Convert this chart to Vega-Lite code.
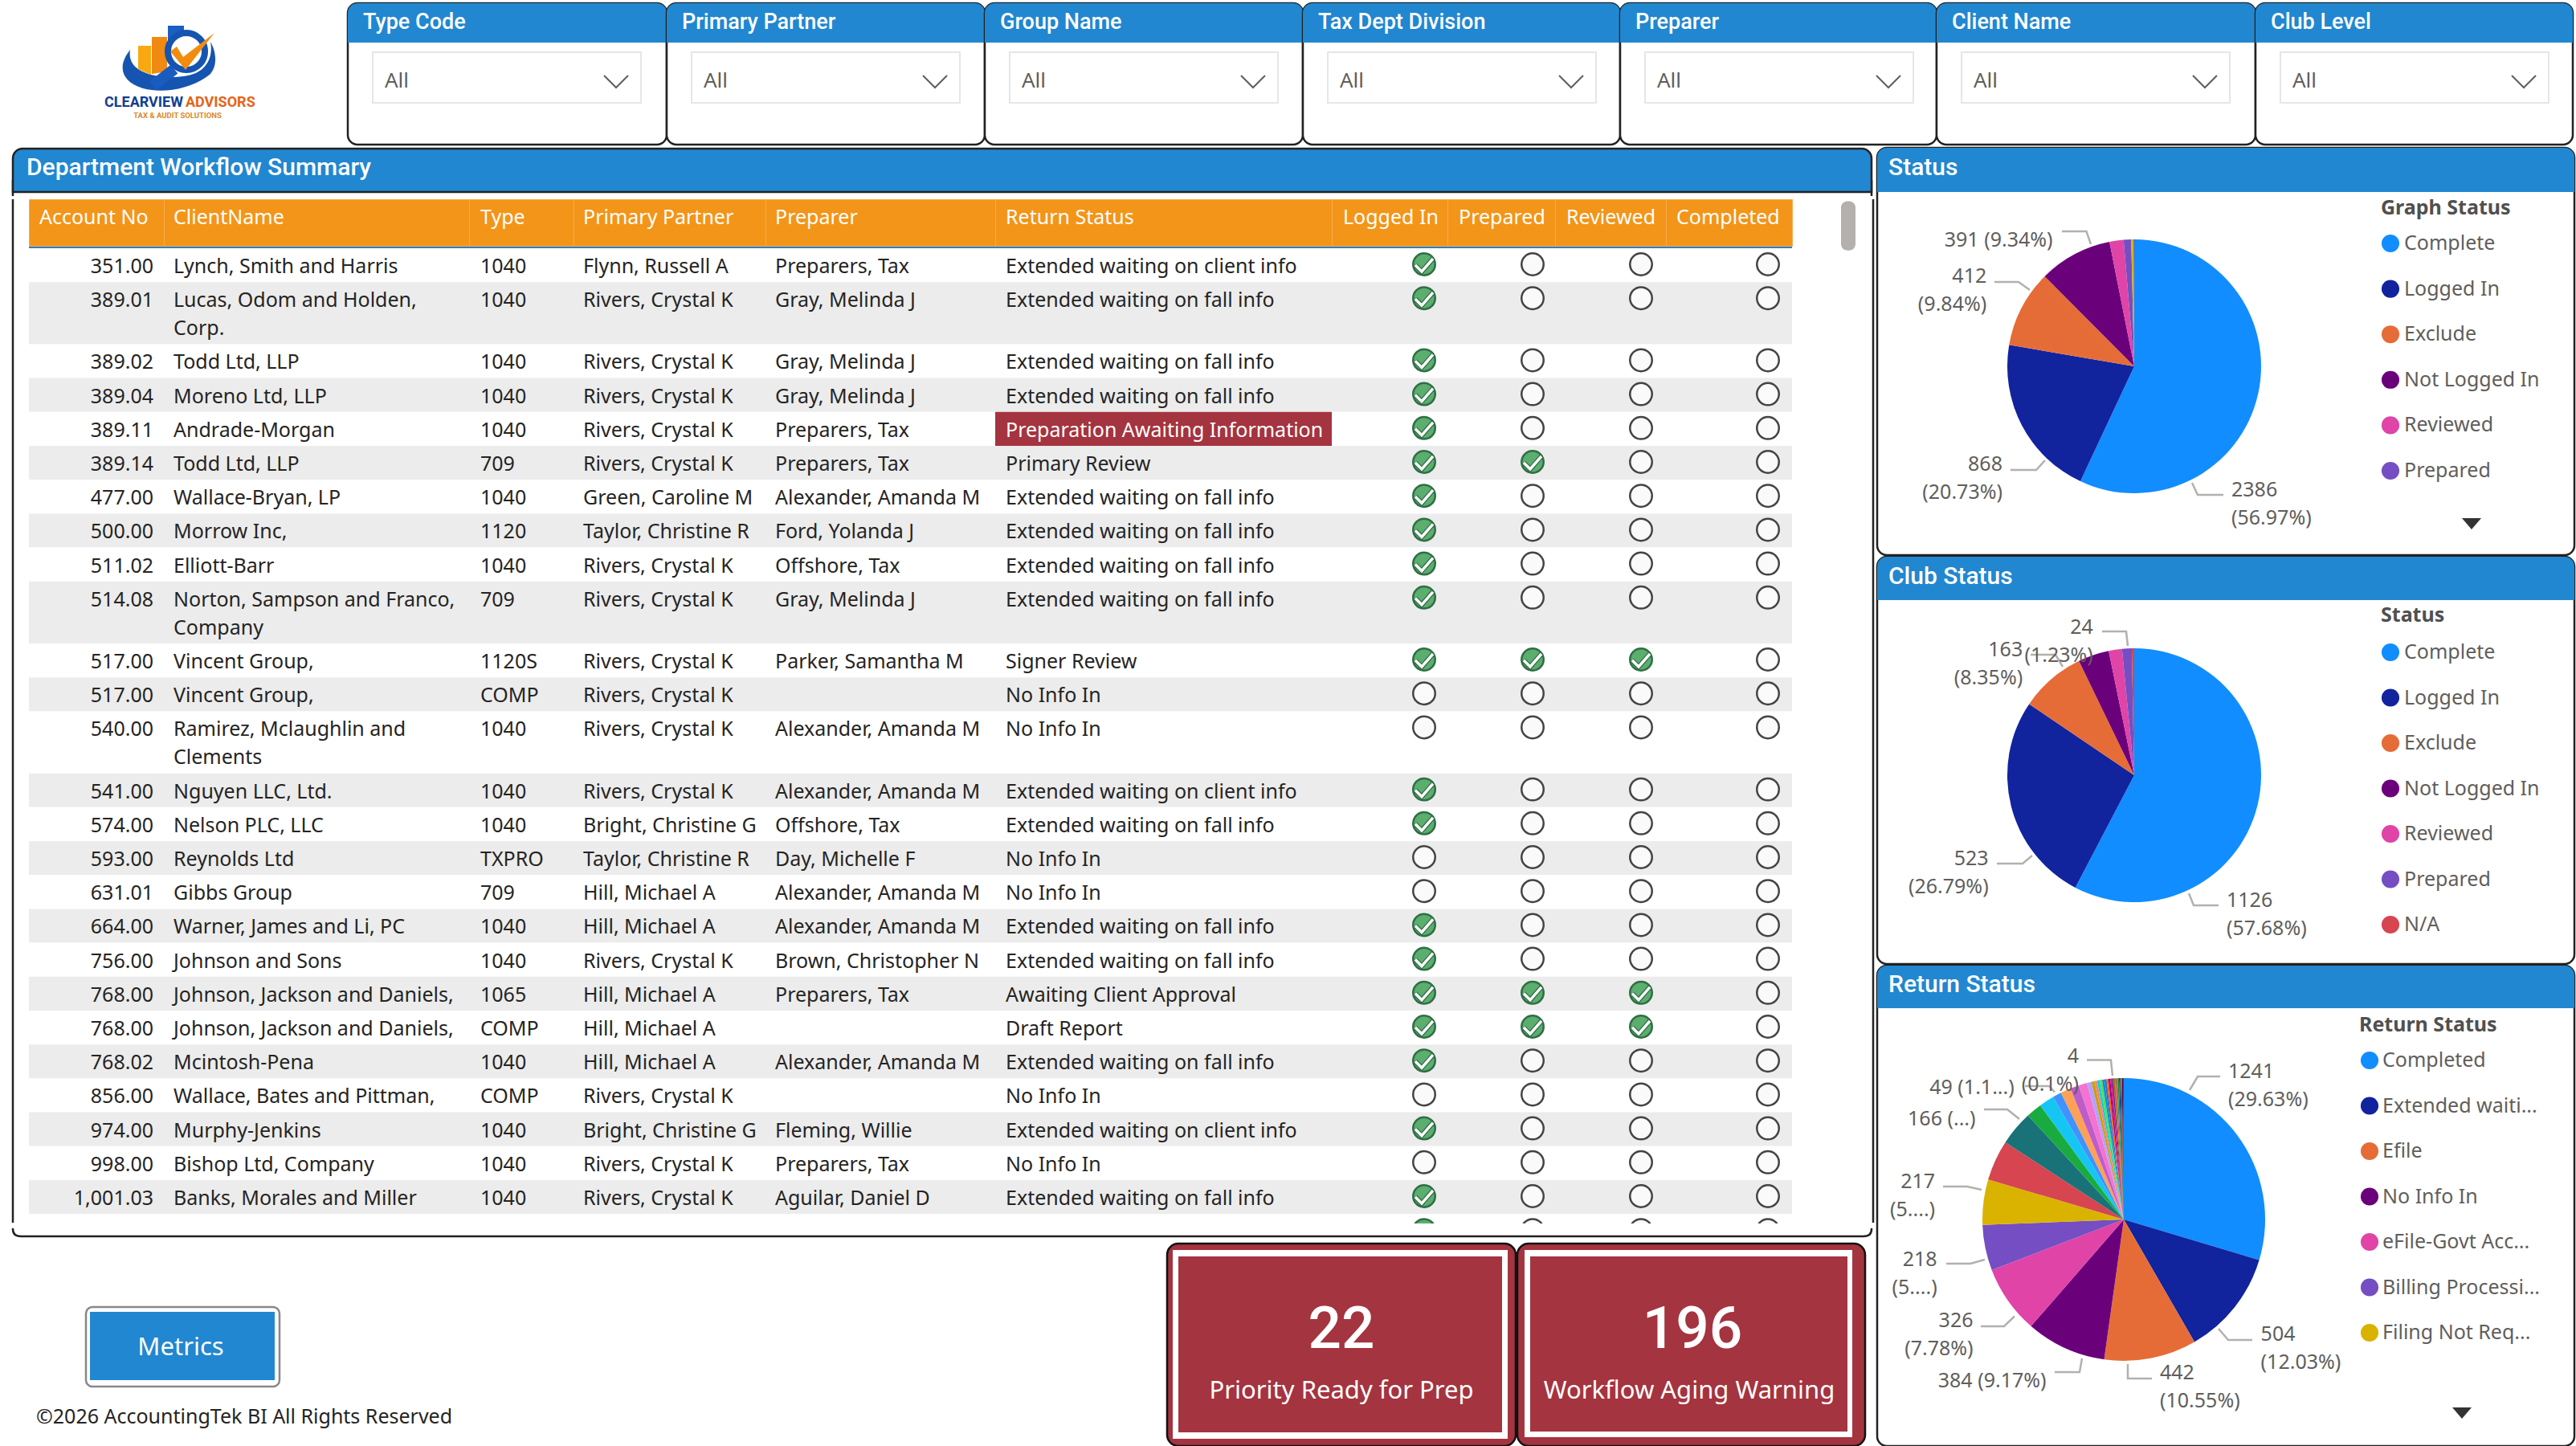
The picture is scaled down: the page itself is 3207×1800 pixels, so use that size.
{
"$schema":"https://vega.github.io/schema/vega-lite/v6.json",
"description":"Department workflow dashboard",
"padding":0,"background":"white","spacing":0,
"config":{"view":{"stroke":null},"axis":{"disable":true},"legend":{"disable":true},"point":{"opacity":1},"text":{"font":"Noto Sans","fontSize":25,"color":"#605e5c"},"arc":{"opacity":1}},
"datasets":{"rows":[
{"account":351.00,"client":"Lynch, Smith and Harris","type":"1040","partner":"Flynn, Russell A","preparer":"Preparers, Tax","status":"Extended waiting on client info","loggedIn":true,"prepared":false,"reviewed":false,"completed":false,"line":0,"lineEnd":1,"shade":"odd"},
{"account":389.01,"client":"Lucas, Odom and Holden,\nCorp.","type":"1040","partner":"Rivers, Crystal K","preparer":"Gray, Melinda J","status":"Extended waiting on fall info","loggedIn":true,"prepared":false,"reviewed":false,"completed":false,"line":1,"lineEnd":2.83,"shade":"even"},
{"account":389.02,"client":"Todd Ltd, LLP","type":"1040","partner":"Rivers, Crystal K","preparer":"Gray, Melinda J","status":"Extended waiting on fall info","loggedIn":true,"prepared":false,"reviewed":false,"completed":false,"line":2.83,"lineEnd":3.83,"shade":"odd"},
{"account":389.04,"client":"Moreno Ltd, LLP","type":"1040","partner":"Rivers, Crystal K","preparer":"Gray, Melinda J","status":"Extended waiting on fall info","loggedIn":true,"prepared":false,"reviewed":false,"completed":false,"line":3.83,"lineEnd":4.83,"shade":"even"},
{"account":389.11,"client":"Andrade-Morgan","type":"1040","partner":"Rivers, Crystal K","preparer":"Preparers, Tax","status":"Preparation Awaiting Information","alert":true,"loggedIn":true,"prepared":false,"reviewed":false,"completed":false,"line":4.83,"lineEnd":5.83,"shade":"odd"},
{"account":389.14,"client":"Todd Ltd, LLP","type":"709","partner":"Rivers, Crystal K","preparer":"Preparers, Tax","status":"Primary Review","loggedIn":true,"prepared":true,"reviewed":false,"completed":false,"line":5.83,"lineEnd":6.83,"shade":"even"},
{"account":477.00,"client":"Wallace-Bryan, LP","type":"1040","partner":"Green, Caroline M","preparer":"Alexander, Amanda M","status":"Extended waiting on fall info","loggedIn":true,"prepared":false,"reviewed":false,"completed":false,"line":6.83,"lineEnd":7.83,"shade":"odd"},
{"account":500.00,"client":"Morrow Inc,","type":"1120","partner":"Taylor, Christine R","preparer":"Ford, Yolanda J","status":"Extended waiting on fall info","loggedIn":true,"prepared":false,"reviewed":false,"completed":false,"line":7.83,"lineEnd":8.83,"shade":"even"},
{"account":511.02,"client":"Elliott-Barr","type":"1040","partner":"Rivers, Crystal K","preparer":"Offshore, Tax","status":"Extended waiting on fall info","loggedIn":true,"prepared":false,"reviewed":false,"completed":false,"line":8.83,"lineEnd":9.83,"shade":"odd"},
{"account":514.08,"client":"Norton, Sampson and Franco,\nCompany","type":"709","partner":"Rivers, Crystal K","preparer":"Gray, Melinda J","status":"Extended waiting on fall info","loggedIn":true,"prepared":false,"reviewed":false,"completed":false,"line":9.83,"lineEnd":11.66,"shade":"even"},
{"account":517.00,"client":"Vincent Group,","type":"1120S","partner":"Rivers, Crystal K","preparer":"Parker, Samantha M","status":"Signer Review","loggedIn":true,"prepared":true,"reviewed":true,"completed":false,"line":11.66,"lineEnd":12.66,"shade":"odd"},
{"account":517.00,"client":"Vincent Group,","type":"COMP","partner":"Rivers, Crystal K","preparer":"","status":"No Info In","loggedIn":false,"prepared":false,"reviewed":false,"completed":false,"line":12.66,"lineEnd":13.66,"shade":"even"},
{"account":540.00,"client":"Ramirez, Mclaughlin and\nClements","type":"1040","partner":"Rivers, Crystal K","preparer":"Alexander, Amanda M","status":"No Info In","loggedIn":false,"prepared":false,"reviewed":false,"completed":false,"line":13.66,"lineEnd":15.49,"shade":"odd"},
{"account":541.00,"client":"Nguyen LLC, Ltd.","type":"1040","partner":"Rivers, Crystal K","preparer":"Alexander, Amanda M","status":"Extended waiting on client info","loggedIn":true,"prepared":false,"reviewed":false,"completed":false,"line":15.49,"lineEnd":16.49,"shade":"even"},
{"account":574.00,"client":"Nelson PLC, LLC","type":"1040","partner":"Bright, Christine G","preparer":"Offshore, Tax","status":"Extended waiting on fall info","loggedIn":true,"prepared":false,"reviewed":false,"completed":false,"line":16.49,"lineEnd":17.49,"shade":"odd"},
{"account":593.00,"client":"Reynolds Ltd","type":"TXPRO","partner":"Taylor, Christine R","preparer":"Day, Michelle F","status":"No Info In","loggedIn":false,"prepared":false,"reviewed":false,"completed":false,"line":17.49,"lineEnd":18.49,"shade":"even"},
{"account":631.01,"client":"Gibbs Group","type":"709","partner":"Hill, Michael A","preparer":"Alexander, Amanda M","status":"No Info In","loggedIn":false,"prepared":false,"reviewed":false,"completed":false,"line":18.49,"lineEnd":19.49,"shade":"odd"},
{"account":664.00,"client":"Warner, James and Li, PC","type":"1040","partner":"Hill, Michael A","preparer":"Alexander, Amanda M","status":"Extended waiting on fall info","loggedIn":true,"prepared":false,"reviewed":false,"completed":false,"line":19.49,"lineEnd":20.49,"shade":"even"},
{"account":756.00,"client":"Johnson and Sons","type":"1040","partner":"Rivers, Crystal K","preparer":"Brown, Christopher N","status":"Extended waiting on fall info","loggedIn":true,"prepared":false,"reviewed":false,"completed":false,"line":20.49,"lineEnd":21.49,"shade":"odd"},
{"account":768.00,"client":"Johnson, Jackson and Daniels,","type":"1065","partner":"Hill, Michael A","preparer":"Preparers, Tax","status":"Awaiting Client Approval","loggedIn":true,"prepared":true,"reviewed":true,"completed":false,"line":21.49,"lineEnd":22.49,"shade":"even"},
{"account":768.00,"client":"Johnson, Jackson and Daniels,","type":"COMP","partner":"Hill, Michael A","preparer":"","status":"Draft Report","loggedIn":true,"prepared":true,"reviewed":true,"completed":false,"line":22.49,"lineEnd":23.49,"shade":"odd"},
{"account":768.02,"client":"Mcintosh-Pena","type":"1040","partner":"Hill, Michael A","preparer":"Alexander, Amanda M","status":"Extended waiting on fall info","loggedIn":true,"prepared":false,"reviewed":false,"completed":false,"line":23.49,"lineEnd":24.49,"shade":"even"},
{"account":856.00,"client":"Wallace, Bates and Pittman,","type":"COMP","partner":"Rivers, Crystal K","preparer":"","status":"No Info In","loggedIn":false,"prepared":false,"reviewed":false,"completed":false,"line":24.49,"lineEnd":25.49,"shade":"odd"},
{"account":974.00,"client":"Murphy-Jenkins","type":"1040","partner":"Bright, Christine G","preparer":"Fleming, Willie","status":"Extended waiting on client info","loggedIn":true,"prepared":false,"reviewed":false,"completed":false,"line":25.49,"lineEnd":26.49,"shade":"even"},
{"account":998.00,"client":"Bishop Ltd, Company","type":"1040","partner":"Rivers, Crystal K","preparer":"Preparers, Tax","status":"No Info In","loggedIn":false,"prepared":false,"reviewed":false,"completed":false,"line":26.49,"lineEnd":27.49,"shade":"odd"},
{"account":1001.03,"client":"Banks, Morales and Miller","type":"1040","partner":"Rivers, Crystal K","preparer":"Aguilar, Daniel D","status":"Extended waiting on fall info","loggedIn":true,"prepared":false,"reviewed":false,"completed":false,"line":27.49,"lineEnd":28.49,"shade":"even"},
{"loggedIn":true,"prepared":false,"reviewed":false,"completed":false,"line":28.49,"lineEnd":29.49,"shade":"odd"}
]},
"vconcat":[
{"width":3207,"height":2,"data":{"values":[{}]},"mark":{"type":"rect","opacity":0}},
{"hconcat":[
{"width":433,"height":176,"data":{"values":[{"brand":"Clearview Advisors"}]},"layer":[
{"mark":{"type":"point","filled":true,"fill":"#1554b0","shape":"M162 58C146 78 150 97 178 106C205 113 240 106 262 88C272 76 268 58 262 48C266 70 255 88 228 91C205 94 175 90 165 75C162 70 161 65 162 58Z"},"encoding":{"x":{"value":0},"y":{"value":0},"size":{"value":4}}},
{"mark":{"type":"point","filled":true,"fill":"#f9a90f","shape":"M172 53H188V89L172 82Z"},"encoding":{"x":{"value":0},"y":{"value":0},"size":{"value":4}}},
{"mark":{"type":"point","filled":true,"fill":"#f08a12","shape":"M189 42H208V85L189 88Z"},"encoding":{"x":{"value":0},"y":{"value":0},"size":{"value":4}}},
{"mark":{"type":"point","filled":true,"fill":"#1a5fc4","shape":"M209 28H229V47H209Z"},"encoding":{"x":{"value":0},"y":{"value":0},"size":{"value":4}}},
{"mark":{"type":"point","shape":"circle","filled":true,"fill":"white","stroke":"#1554b0","strokeWidth":8},"encoding":{"x":{"value":232},"y":{"value":60},"size":{"value":2124}}},
{"mark":{"type":"point","filled":false,"stroke":"#1a5bc0","strokeWidth":14,"shape":"M217 82L190 103"},"encoding":{"x":{"value":0},"y":{"value":0},"size":{"value":4}}},
{"mark":{"type":"point","filled":true,"fill":"#f28c0f","shape":"M212 60L220 54L228 67L267 37L231 83Z"},"encoding":{"x":{"value":0},"y":{"value":0},"size":{"value":4}}},
{"mark":{"type":"text","font":"Roboto","fontWeight":"bold","fontSize":18,"color":"#12408f","align":"right","baseline":"middle"},"encoding":{"x":{"value":228},"y":{"value":124},"text":{"value":"CLEARVIEW"}}},
{"mark":{"type":"text","font":"Roboto","fontWeight":"bold","fontSize":18,"color":"#e5631a","align":"left","baseline":"middle"},"encoding":{"x":{"value":231},"y":{"value":124},"text":{"value":"ADVISORS"}}},
{"mark":{"type":"text","font":"Roboto","fontWeight":"bold","fontSize":9.5,"color":"#d98a2b","align":"center","baseline":"middle"},"encoding":{"x":{"value":221},"y":{"value":140},"text":{"value":"TAX & AUDIT SOLUTIONS"}}}
]},
{"width":397,"height":176,"view":{"fill":"white","stroke":"#222","strokeWidth":2.5,"cornerRadius":12},"data":{"values":[{"title":"Type Code","selected":"All"}]},"layer":[
{"mark":{"type":"rect","color":"#2187d0","cornerRadiusTopLeft":12,"cornerRadiusTopRight":12},"encoding":{"y":{"value":0},"y2":{"value":49}}},
{"mark":{"type":"text","font":"Roboto","fontWeight":500,"fontSize":27,"color":"white","align":"left","baseline":"middle"},"encoding":{"x":{"value":19},"y":{"value":24},"text":{"field":"title"}}},
{"mark":{"type":"rect","fill":"white","stroke":"#e6e6e6","strokeWidth":2},"encoding":{"x":{"value":31},"x2":{"value":365},"y":{"value":61},"y2":{"value":124}}},
{"mark":{"type":"text","align":"left","baseline":"middle","fontSize":26},"encoding":{"x":{"value":46},"y":{"value":97},"text":{"field":"selected"}}},
{"mark":{"type":"point","filled":false,"stroke":"#605e5c","strokeWidth":2,"shape":"M-15 -7L0 8L15 -7"},"encoding":{"x":{"value":334},"y":{"value":97},"size":{"value":4}}}
]},
{"width":396,"height":176,"view":{"fill":"white","stroke":"#222","strokeWidth":2.5,"cornerRadius":12},"data":{"values":[{"title":"Primary Partner","selected":"All"}]},"layer":[
{"mark":{"type":"rect","color":"#2187d0","cornerRadiusTopLeft":12,"cornerRadiusTopRight":12},"encoding":{"y":{"value":0},"y2":{"value":49}}},
{"mark":{"type":"text","font":"Roboto","fontWeight":500,"fontSize":27,"color":"white","align":"left","baseline":"middle"},"encoding":{"x":{"value":19},"y":{"value":24},"text":{"field":"title"}}},
{"mark":{"type":"rect","fill":"white","stroke":"#e6e6e6","strokeWidth":2},"encoding":{"x":{"value":31},"x2":{"value":365},"y":{"value":61},"y2":{"value":124}}},
{"mark":{"type":"text","align":"left","baseline":"middle","fontSize":26},"encoding":{"x":{"value":46},"y":{"value":97},"text":{"field":"selected"}}},
{"mark":{"type":"point","filled":false,"stroke":"#605e5c","strokeWidth":2,"shape":"M-15 -7L0 8L15 -7"},"encoding":{"x":{"value":334},"y":{"value":97},"size":{"value":4}}}
]},
{"width":396,"height":176,"view":{"fill":"white","stroke":"#222","strokeWidth":2.5,"cornerRadius":12},"data":{"values":[{"title":"Group Name","selected":"All"}]},"layer":[
{"mark":{"type":"rect","color":"#2187d0","cornerRadiusTopLeft":12,"cornerRadiusTopRight":12},"encoding":{"y":{"value":0},"y2":{"value":49}}},
{"mark":{"type":"text","font":"Roboto","fontWeight":500,"fontSize":27,"color":"white","align":"left","baseline":"middle"},"encoding":{"x":{"value":19},"y":{"value":24},"text":{"field":"title"}}},
{"mark":{"type":"rect","fill":"white","stroke":"#e6e6e6","strokeWidth":2},"encoding":{"x":{"value":31},"x2":{"value":365},"y":{"value":61},"y2":{"value":124}}},
{"mark":{"type":"text","align":"left","baseline":"middle","fontSize":26},"encoding":{"x":{"value":46},"y":{"value":97},"text":{"field":"selected"}}},
{"mark":{"type":"point","filled":false,"stroke":"#605e5c","strokeWidth":2,"shape":"M-15 -7L0 8L15 -7"},"encoding":{"x":{"value":334},"y":{"value":97},"size":{"value":4}}}
]},
{"width":395,"height":176,"view":{"fill":"white","stroke":"#222","strokeWidth":2.5,"cornerRadius":12},"data":{"values":[{"title":"Tax Dept Division","selected":"All"}]},"layer":[
{"mark":{"type":"rect","color":"#2187d0","cornerRadiusTopLeft":12,"cornerRadiusTopRight":12},"encoding":{"y":{"value":0},"y2":{"value":49}}},
{"mark":{"type":"text","font":"Roboto","fontWeight":500,"fontSize":27,"color":"white","align":"left","baseline":"middle"},"encoding":{"x":{"value":19},"y":{"value":24},"text":{"field":"title"}}},
{"mark":{"type":"rect","fill":"white","stroke":"#e6e6e6","strokeWidth":2},"encoding":{"x":{"value":31},"x2":{"value":365},"y":{"value":61},"y2":{"value":124}}},
{"mark":{"type":"text","align":"left","baseline":"middle","fontSize":26},"encoding":{"x":{"value":46},"y":{"value":97},"text":{"field":"selected"}}},
{"mark":{"type":"point","filled":false,"stroke":"#605e5c","strokeWidth":2,"shape":"M-15 -7L0 8L15 -7"},"encoding":{"x":{"value":334},"y":{"value":97},"size":{"value":4}}}
]},
{"width":394,"height":176,"view":{"fill":"white","stroke":"#222","strokeWidth":2.5,"cornerRadius":12},"data":{"values":[{"title":"Preparer","selected":"All"}]},"layer":[
{"mark":{"type":"rect","color":"#2187d0","cornerRadiusTopLeft":12,"cornerRadiusTopRight":12},"encoding":{"y":{"value":0},"y2":{"value":49}}},
{"mark":{"type":"text","font":"Roboto","fontWeight":500,"fontSize":27,"color":"white","align":"left","baseline":"middle"},"encoding":{"x":{"value":19},"y":{"value":24},"text":{"field":"title"}}},
{"mark":{"type":"rect","fill":"white","stroke":"#e6e6e6","strokeWidth":2},"encoding":{"x":{"value":31},"x2":{"value":365},"y":{"value":61},"y2":{"value":124}}},
{"mark":{"type":"text","align":"left","baseline":"middle","fontSize":26},"encoding":{"x":{"value":46},"y":{"value":97},"text":{"field":"selected"}}},
{"mark":{"type":"point","filled":false,"stroke":"#605e5c","strokeWidth":2,"shape":"M-15 -7L0 8L15 -7"},"encoding":{"x":{"value":334},"y":{"value":97},"size":{"value":4}}}
]},
{"width":397,"height":176,"view":{"fill":"white","stroke":"#222","strokeWidth":2.5,"cornerRadius":12},"data":{"values":[{"title":"Client Name","selected":"All"}]},"layer":[
{"mark":{"type":"rect","color":"#2187d0","cornerRadiusTopLeft":12,"cornerRadiusTopRight":12},"encoding":{"y":{"value":0},"y2":{"value":49}}},
{"mark":{"type":"text","font":"Roboto","fontWeight":500,"fontSize":27,"color":"white","align":"left","baseline":"middle"},"encoding":{"x":{"value":19},"y":{"value":24},"text":{"field":"title"}}},
{"mark":{"type":"rect","fill":"white","stroke":"#e6e6e6","strokeWidth":2},"encoding":{"x":{"value":31},"x2":{"value":365},"y":{"value":61},"y2":{"value":124}}},
{"mark":{"type":"text","align":"left","baseline":"middle","fontSize":26},"encoding":{"x":{"value":46},"y":{"value":97},"text":{"field":"selected"}}},
{"mark":{"type":"point","filled":false,"stroke":"#605e5c","strokeWidth":2,"shape":"M-15 -7L0 8L15 -7"},"encoding":{"x":{"value":334},"y":{"value":97},"size":{"value":4}}}
]},
{"width":395,"height":176,"view":{"fill":"white","stroke":"#222","strokeWidth":2.5,"cornerRadius":12},"data":{"values":[{"title":"Club Level","selected":"All"}]},"layer":[
{"mark":{"type":"rect","color":"#2187d0","cornerRadiusTopLeft":12,"cornerRadiusTopRight":12},"encoding":{"y":{"value":0},"y2":{"value":49}}},
{"mark":{"type":"text","font":"Roboto","fontWeight":500,"fontSize":27,"color":"white","align":"left","baseline":"middle"},"encoding":{"x":{"value":19},"y":{"value":24},"text":{"field":"title"}}},
{"mark":{"type":"rect","fill":"white","stroke":"#e6e6e6","strokeWidth":2},"encoding":{"x":{"value":31},"x2":{"value":365},"y":{"value":61},"y2":{"value":124}}},
{"mark":{"type":"text","align":"left","baseline":"middle","fontSize":26},"encoding":{"x":{"value":46},"y":{"value":97},"text":{"field":"selected"}}},
{"mark":{"type":"point","filled":false,"stroke":"#605e5c","strokeWidth":2,"shape":"M-15 -7L0 8L15 -7"},"encoding":{"x":{"value":334},"y":{"value":97},"size":{"value":4}}}
]}
],"spacing":0,"bounds":"flush"},
{"hconcat":[
{"width":11,"height":1,"data":{"values":[{}]},"mark":{"type":"rect","opacity":0}},
{"vconcat":[
{"vconcat":[
{"width":2316,"height":60,"data":{"values":[{"title":"Department Workflow Summary"}]},"layer":[
{"mark":{"type":"rule","color":"#222","strokeWidth":2.5},"encoding":{"x":{"value":1},"y":{"value":40},"y2":{"value":60}}},
{"mark":{"type":"rule","color":"#222","strokeWidth":2.5},"encoding":{"x":{"value":2315},"y":{"value":40},"y2":{"value":60}}},
{"mark":{"type":"rect","color":"#2187d0","stroke":"#222","strokeWidth":2.5,"cornerRadiusTopLeft":12,"cornerRadiusTopRight":12},"encoding":{"x":{"value":1},"x2":{"value":2315},"y":{"value":1},"y2":{"value":55}}},
{"mark":{"type":"text","font":"Roboto","fontWeight":500,"fontSize":30,"color":"white","align":"left","baseline":"middle"},"encoding":{"x":{"value":18},"y":{"value":25},"text":{"field":"title"}}}
]},
{"hconcat":[
{"width":20,"height":1274,"data":{"values":[{}]},"mark":{"type":"rule","color":"#222","strokeWidth":2.5},"encoding":{"x":{"value":1},"y":{"value":0},"y2":{"value":1274}}},
{"vconcat":[
{"hconcat":[
{"width":168,"height":58,"view":{"fill":"#f39519","stroke":"#f6ab4d"},"data":{"values":[{"h":"Account No"}]},"mark":{"type":"text","align":"left","baseline":"middle","color":"white"},"encoding":{"x":{"value":13},"y":{"value":23},"text":{"field":"h"}}},
{"width":380,"height":58,"view":{"fill":"#f39519","stroke":"#f6ab4d"},"data":{"values":[{"h":"ClientName"}]},"mark":{"type":"text","align":"left","baseline":"middle","color":"white"},"encoding":{"x":{"value":12},"y":{"value":23},"text":{"field":"h"}}},
{"width":130,"height":58,"view":{"fill":"#f39519","stroke":"#f6ab4d"},"data":{"values":[{"h":"Type"}]},"mark":{"type":"text","align":"left","baseline":"middle","color":"white"},"encoding":{"x":{"value":14},"y":{"value":23},"text":{"field":"h"}}},
{"width":239,"height":58,"view":{"fill":"#f39519","stroke":"#f6ab4d"},"data":{"values":[{"h":"Primary Partner"}]},"mark":{"type":"text","align":"left","baseline":"middle","color":"white"},"encoding":{"x":{"value":12},"y":{"value":23},"text":{"field":"h"}}},
{"width":286,"height":58,"view":{"fill":"#f39519","stroke":"#f6ab4d"},"data":{"values":[{"h":"Preparer"}]},"mark":{"type":"text","align":"left","baseline":"middle","color":"white"},"encoding":{"x":{"value":12},"y":{"value":23},"text":{"field":"h"}}},
{"width":419,"height":58,"view":{"fill":"#f39519","stroke":"#f6ab4d"},"data":{"values":[{"h":"Return Status"}]},"mark":{"type":"text","align":"left","baseline":"middle","color":"white"},"encoding":{"x":{"value":13},"y":{"value":23},"text":{"field":"h"}}},
{"width":144,"height":58,"view":{"fill":"#f39519","stroke":"#f6ab4d"},"data":{"values":[{"h":"Logged In"}]},"mark":{"type":"text","align":"left","baseline":"middle","color":"white"},"encoding":{"x":{"value":14},"y":{"value":23},"text":{"field":"h"}}},
{"width":134,"height":58,"view":{"fill":"#f39519","stroke":"#f6ab4d"},"data":{"values":[{"h":"Prepared"}]},"mark":{"type":"text","align":"left","baseline":"middle","color":"white"},"encoding":{"x":{"value":14},"y":{"value":23},"text":{"field":"h"}}},
{"width":138,"height":58,"view":{"fill":"#f39519","stroke":"#f6ab4d"},"data":{"values":[{"h":"Reviewed"}]},"mark":{"type":"text","align":"left","baseline":"middle","color":"white"},"encoding":{"x":{"value":14},"y":{"value":23},"text":{"field":"h"}}},
{"width":157,"height":58,"view":{"fill":"#f39519","stroke":"#f6ab4d"},"data":{"values":[{"h":"Completed"}]},"mark":{"type":"text","align":"left","baseline":"middle","color":"white"},"encoding":{"x":{"value":13},"y":{"value":23},"text":{"field":"h"}}}
],"spacing":0,"bounds":"flush"},
{"width":2195,"height":2,"data":{"values":[{}]},"mark":{"type":"rect","color":"#2d7fc0"}},
{"hconcat":[
{"width":168,"height":1214,"data":{"name":"rows"},"encoding":{"y":{"field":"line","type":"quantitative","scale":{"domain":[28.77,0],"nice":false}}},"layer":[
{"mark":{"type":"rect","clip":true},"encoding":{"y2":{"field":"lineEnd"},"fill":{"condition":{"test":"datum.shade=='even'","value":"#ececec"},"value":"#ffffff"}}},
{"transform":[{"filter":"isValid(datum.account)"}],"mark":{"type":"text","align":"right","baseline":"top","dy":11,"clip":true,"color":"#252423"},"encoding":{"x":{"value":155},"text":{"field":"account","type":"quantitative","format":",.2f"}}}
]},
{"width":380,"height":1214,"data":{"name":"rows"},"encoding":{"y":{"field":"line","type":"quantitative","scale":{"domain":[28.77,0],"nice":false}}},"layer":[
{"mark":{"type":"rect","clip":true},"encoding":{"y2":{"field":"lineEnd"},"fill":{"condition":{"test":"datum.shade=='even'","value":"#ececec"},"value":"#ffffff"}}},
{"transform":[{"filter":"isValid(datum.account)"}],"mark":{"type":"text","align":"left","baseline":"top","dy":11,"lineBreak":"\n","lineHeight":35,"clip":true,"color":"#252423"},"encoding":{"x":{"value":12},"text":{"field":"client"}}}
]},
{"width":130,"height":1214,"data":{"name":"rows"},"encoding":{"y":{"field":"line","type":"quantitative","scale":{"domain":[28.77,0],"nice":false}}},"layer":[
{"mark":{"type":"rect","clip":true},"encoding":{"y2":{"field":"lineEnd"},"fill":{"condition":{"test":"datum.shade=='even'","value":"#ececec"},"value":"#ffffff"}}},
{"transform":[{"filter":"isValid(datum.account)"}],"mark":{"type":"text","align":"left","baseline":"top","dy":11,"clip":true,"color":"#252423"},"encoding":{"x":{"value":14},"text":{"field":"type"}}}
]},
{"width":239,"height":1214,"data":{"name":"rows"},"encoding":{"y":{"field":"line","type":"quantitative","scale":{"domain":[28.77,0],"nice":false}}},"layer":[
{"mark":{"type":"rect","clip":true},"encoding":{"y2":{"field":"lineEnd"},"fill":{"condition":{"test":"datum.shade=='even'","value":"#ececec"},"value":"#ffffff"}}},
{"transform":[{"filter":"isValid(datum.account)"}],"mark":{"type":"text","align":"left","baseline":"top","dy":11,"clip":true,"color":"#252423"},"encoding":{"x":{"value":12},"text":{"field":"partner"}}}
]},
{"width":286,"height":1214,"data":{"name":"rows"},"encoding":{"y":{"field":"line","type":"quantitative","scale":{"domain":[28.77,0],"nice":false}}},"layer":[
{"mark":{"type":"rect","clip":true},"encoding":{"y2":{"field":"lineEnd"},"fill":{"condition":{"test":"datum.shade=='even'","value":"#ececec"},"value":"#ffffff"}}},
{"transform":[{"filter":"isValid(datum.account)"}],"mark":{"type":"text","align":"left","baseline":"top","dy":11,"clip":true,"color":"#252423"},"encoding":{"x":{"value":12},"text":{"field":"preparer"}}}
]},
{"width":419,"height":1214,"data":{"name":"rows"},"encoding":{"y":{"field":"line","type":"quantitative","scale":{"domain":[28.77,0],"nice":false}}},"layer":[
{"mark":{"type":"rect","clip":true},"encoding":{"y2":{"field":"lineEnd"},"fill":{"condition":{"test":"datum.shade=='even'","value":"#ececec"},"value":"#ffffff"}}},
{"transform":[{"filter":"datum.alert"}],"mark":{"type":"rect","color":"#a4343f"},"encoding":{"y2":{"field":"lineEnd"}}},
{"transform":[{"filter":"isValid(datum.account)"}],"mark":{"type":"text","align":"left","baseline":"top","dy":11,"clip":true},"encoding":{"x":{"value":13},"text":{"field":"status"},"color":{"condition":{"test":"datum.alert","value":"white"},"value":"#252423"}}}
]},
{"width":144,"height":1214,"data":{"name":"rows"},"encoding":{"y":{"field":"line","type":"quantitative","scale":{"domain":[28.77,0],"nice":false}},"yOffset":{"value":20}},"layer":[
{"mark":{"type":"rect","clip":true},"encoding":{"yOffset":{"value":0},"y2":{"field":"lineEnd"},"fill":{"condition":{"test":"datum.shade=='even'","value":"#ececec"},"value":"#ffffff"}}},
{"mark":{"type":"point","shape":"circle","filled":true,"strokeWidth":2.5,"clip":true},"encoding":{"x":{"value":115},"size":{"value":755},"fill":{"condition":{"test":"datum.loggedIn","value":"#5bae6e"},"value":"#fafafa"},"stroke":{"condition":{"test":"datum.loggedIn","value":"#2f6e45"},"value":"#444444"}}},
{"transform":[{"filter":"datum.loggedIn"}],"mark":{"type":"point","filled":false,"stroke":"#2f6e45","strokeWidth":6,"shape":"M-11 1L-3 9L11 -7","clip":true},"encoding":{"x":{"value":115},"size":{"value":4}}},
{"transform":[{"filter":"datum.loggedIn"}],"mark":{"type":"point","filled":false,"stroke":"white","strokeWidth":3.5,"shape":"M-11 1L-3 9L11 -7","clip":true},"encoding":{"x":{"value":115},"size":{"value":4}}}
]},
{"width":134,"height":1214,"data":{"name":"rows"},"encoding":{"y":{"field":"line","type":"quantitative","scale":{"domain":[28.77,0],"nice":false}},"yOffset":{"value":20}},"layer":[
{"mark":{"type":"rect","clip":true},"encoding":{"yOffset":{"value":0},"y2":{"field":"lineEnd"},"fill":{"condition":{"test":"datum.shade=='even'","value":"#ececec"},"value":"#ffffff"}}},
{"mark":{"type":"point","shape":"circle","filled":true,"strokeWidth":2.5,"clip":true},"encoding":{"x":{"value":106},"size":{"value":755},"fill":{"condition":{"test":"datum.prepared","value":"#5bae6e"},"value":"#fafafa"},"stroke":{"condition":{"test":"datum.prepared","value":"#2f6e45"},"value":"#444444"}}},
{"transform":[{"filter":"datum.prepared"}],"mark":{"type":"point","filled":false,"stroke":"#2f6e45","strokeWidth":6,"shape":"M-11 1L-3 9L11 -7","clip":true},"encoding":{"x":{"value":106},"size":{"value":4}}},
{"transform":[{"filter":"datum.prepared"}],"mark":{"type":"point","filled":false,"stroke":"white","strokeWidth":3.5,"shape":"M-11 1L-3 9L11 -7","clip":true},"encoding":{"x":{"value":106},"size":{"value":4}}}
]},
{"width":138,"height":1214,"data":{"name":"rows"},"encoding":{"y":{"field":"line","type":"quantitative","scale":{"domain":[28.77,0],"nice":false}},"yOffset":{"value":20}},"layer":[
{"mark":{"type":"rect","clip":true},"encoding":{"yOffset":{"value":0},"y2":{"field":"lineEnd"},"fill":{"condition":{"test":"datum.shade=='even'","value":"#ececec"},"value":"#ffffff"}}},
{"mark":{"type":"point","shape":"circle","filled":true,"strokeWidth":2.5,"clip":true},"encoding":{"x":{"value":107},"size":{"value":755},"fill":{"condition":{"test":"datum.reviewed","value":"#5bae6e"},"value":"#fafafa"},"stroke":{"condition":{"test":"datum.reviewed","value":"#2f6e45"},"value":"#444444"}}},
{"transform":[{"filter":"datum.reviewed"}],"mark":{"type":"point","filled":false,"stroke":"#2f6e45","strokeWidth":6,"shape":"M-11 1L-3 9L11 -7","clip":true},"encoding":{"x":{"value":107},"size":{"value":4}}},
{"transform":[{"filter":"datum.reviewed"}],"mark":{"type":"point","filled":false,"stroke":"white","strokeWidth":3.5,"shape":"M-11 1L-3 9L11 -7","clip":true},"encoding":{"x":{"value":107},"size":{"value":4}}}
]},
{"width":157,"height":1214,"data":{"name":"rows"},"encoding":{"y":{"field":"line","type":"quantitative","scale":{"domain":[28.77,0],"nice":false}},"yOffset":{"value":20}},"layer":[
{"mark":{"type":"rect","clip":true},"encoding":{"yOffset":{"value":0},"y2":{"field":"lineEnd"},"fill":{"condition":{"test":"datum.shade=='even'","value":"#ececec"},"value":"#ffffff"}}},
{"mark":{"type":"point","shape":"circle","filled":true,"strokeWidth":2.5,"clip":true},"encoding":{"x":{"value":127},"size":{"value":755},"fill":{"condition":{"test":"datum.completed","value":"#5bae6e"},"value":"#fafafa"},"stroke":{"condition":{"test":"datum.completed","value":"#2f6e45"},"value":"#444444"}}}
]}
],"spacing":0,"bounds":"flush"}
],"spacing":0},
{"width":60,"height":1,"data":{"values":[{}]},"mark":{"type":"rect","opacity":0}},
{"width":18,"height":1274,"data":{"values":[{"from":0.002,"to":0.05}]},"mark":{"type":"rect","cornerRadius":8,"color":"#b3b0ad"},"encoding":{"y":{"field":"from","type":"quantitative","scale":{"domain":[1,0],"nice":false}},"y2":{"field":"to"}}},
{"width":23,"height":1274,"data":{"values":[{}]},"mark":{"type":"rule","color":"#222","strokeWidth":2.5},"encoding":{"x":{"value":22},"y":{"value":0},"y2":{"value":1274}}}
],"spacing":0},
{"width":2316,"height":12,"data":{"values":[{}]},"mark":{"type":"point","filled":false,"stroke":"#222","strokeWidth":2.5,"shape":"M1 0V1Q1 10 11 10H2305Q2315 10 2315 1V0"},"encoding":{"x":{"value":0},"y":{"value":0},"size":{"value":4}}}
],"spacing":0},
{"hconcat":[
{"width":1438,"height":252,"data":{"values":[{"button":"Metrics","note":"©2026 AccountingTek BI All Rights Reserved"}]},"layer":[
{"mark":{"type":"rect","fill":"white","stroke":"#8a8886","strokeWidth":2.5,"cornerRadius":8},"encoding":{"x":{"value":92},"x2":{"value":333},"y":{"value":79},"y2":{"value":178}}},
{"mark":{"type":"rect","color":"#2187d0"},"encoding":{"x":{"value":97},"x2":{"value":327},"y":{"value":85},"y2":{"value":170}}},
{"mark":{"type":"text","align":"center","baseline":"middle","fontSize":31,"color":"white"},"encoding":{"x":{"value":210},"y":{"value":130},"text":{"field":"button"}}},
{"mark":{"type":"text","align":"left","baseline":"middle","fontSize":25,"color":"#252423"},"encoding":{"x":{"value":30},"y":{"value":216},"text":{"field":"note"}}}
]},
{"width":434,"height":252,"view":{"fill":"#a4343f","stroke":"#111","strokeWidth":2.5,"cornerRadius":14},"data":{"values":[{"measure":22,"label":"Priority Ready for Prep"}]},"layer":[
{"mark":{"type":"rect","color":"white"},"encoding":{"x":{"value":7},"x2":{"value":424},"y":{"value":8},"y2":{"value":243}}},
{"mark":{"type":"rect","color":"#a4343f"},"encoding":{"x":{"value":14},"x2":{"value":417},"y":{"value":16},"y2":{"value":235}}},
{"mark":{"type":"text","font":"Roboto","fontWeight":500,"align":"center","baseline":"middle","fontSize":73,"color":"white"},"encoding":{"x":{"value":217},"y":{"value":108},"text":{"field":"measure"}}},
{"mark":{"type":"text","align":"center","baseline":"middle","fontSize":31,"color":"white"},"encoding":{"x":{"value":217},"y":{"value":184},"text":{"field":"label"}}}
]},
{"width":2,"height":1,"data":{"values":[{}]},"mark":{"type":"rect","opacity":0}},
{"width":433,"height":252,"view":{"fill":"#a4343f","stroke":"#111","strokeWidth":2.5,"cornerRadius":14},"data":{"values":[{"measure":196,"label":"Workflow Aging Warning"}]},"layer":[
{"mark":{"type":"rect","color":"white"},"encoding":{"x":{"value":9},"x2":{"value":417},"y":{"value":8},"y2":{"value":241}}},
{"mark":{"type":"rect","color":"#a4343f"},"encoding":{"x":{"value":16},"x2":{"value":411},"y":{"value":16},"y2":{"value":234}}},
{"mark":{"type":"text","font":"Roboto","fontWeight":500,"align":"center","baseline":"middle","fontSize":73,"color":"white"},"encoding":{"x":{"value":218},"y":{"value":108},"text":{"field":"measure"}}},
{"mark":{"type":"text","align":"center","baseline":"middle","fontSize":31,"color":"white"},"encoding":{"x":{"value":214},"y":{"value":184},"text":{"field":"label"}}}
]}
],"spacing":0,"bounds":"flush"}
],"spacing":2},
{"vconcat":[
{"width":868,"height":507,"view":{"fill":"white","stroke":"#222","strokeWidth":2.5,"cornerRadius":12},
"data":{"values":[{"status":"Complete","count":2386,"label":"2386\n(56.97%)"},{"status":"Logged In","count":868,"label":"868\n(20.73%)"},{"status":"Exclude","count":412,"label":"412\n(9.84%)"},{"status":"Not Logged In","count":391,"label":"391 (9.34%)"},{"status":"Reviewed","count":75},{"status":"Prepared","count":40},{"status":"Other","count":12},{"status":"N/A","count":4}]},
"transform":[{"stack":"count","groupby":[],"as":["t0","t1"]}],
"layer":[
{"data":{"values":[{"title":"Status"}]},"transform":[],"layer":[
{"mark":{"type":"rect","color":"#2187d0","cornerRadiusTopLeft":12,"cornerRadiusTopRight":12},"encoding":{"y":{"value":0},"y2":{"value":55}}},
{"mark":{"type":"text","font":"Roboto","fontWeight":500,"fontSize":30,"color":"white","align":"left","baseline":"middle"},"encoding":{"x":{"value":14},"y":{"value":25},"text":{"field":"title"}}}
]},
{"mark":{"type":"arc"},"encoding":{"x":{"value":320},"y":{"value":272},"radius":{"value":158},"theta":{"field":"t0","type":"quantitative","scale":{"domain":[0,4188]}},"theta2":{"field":"t1"},"color":{"field":"status","type":"nominal","scale":{"domain":["Complete","Logged In","Exclude","Not Logged In","Reviewed","Prepared","Other","N/A"],"range":["#118DFF","#12239E","#E66C37","#6B007B","#E044A7","#744EC2","#D9B300","#D64550"]}}}},
{"data":{"values":[{"leaders":"Status"}]},"mark":{"type":"point","filled":false,"stroke":"#b3b0ad","strokeWidth":2.5,"shape":"M72 145L79 160H111M-111 117L-122 129H-154M-130 -95L-144 -105H-174M-54 -152L-59.5 -168H-90"},"encoding":{"x":{"value":320},"y":{"value":272},"size":{"value":4}}},
{"transform":[{"filter":"datum.status=='Complete'"}],"mark":{"type":"text","align":"left","lineBreak":"\n","lineHeight":35,"dx":121,"dy":312},"encoding":{"x":{"value":320},"y":{"value":272},"radius":{"value":158},"theta":{"field":"t0","type":"quantitative","scale":{"domain":[0,4188]}},"text":{"field":"label"}}},
{"transform":[{"filter":"datum.status=='Logged In'"}],"mark":{"type":"text","align":"right","lineBreak":"\n","lineHeight":35,"dx":-97,"dy":-21},"encoding":{"x":{"value":320},"y":{"value":272},"radius":{"value":158},"theta":{"field":"t0","type":"quantitative","scale":{"domain":[0,4188]}},"text":{"field":"label"}}},
{"transform":[{"filter":"datum.status=='Exclude'"}],"mark":{"type":"text","align":"right","lineBreak":"\n","lineHeight":35,"dx":-28,"dy":-85},"encoding":{"x":{"value":320},"y":{"value":272},"radius":{"value":158},"theta":{"field":"t0","type":"quantitative","scale":{"domain":[0,4188]}},"text":{"field":"label"}}},
{"transform":[{"filter":"datum.status=='Not Logged In'"}],"mark":{"type":"text","align":"right","lineBreak":"\n","lineHeight":35,"dx":10,"dy":-45},"encoding":{"x":{"value":320},"y":{"value":272},"radius":{"value":158},"theta":{"field":"t0","type":"quantitative","scale":{"domain":[0,4188]}},"text":{"field":"label"}}},
{"data":{"values":[{"legendTitle":"Graph Status"}]},"mark":{"type":"text","align":"left","baseline":"middle","fontWeight":"bold","fontSize":25,"color":"#505050"},"encoding":{"x":{"value":627},"y":{"value":75},"text":{"field":"legendTitle"}}},
{"data":{"values":[{"status":"Complete"},{"status":"Logged In"},{"status":"Exclude"},{"status":"Not Logged In"},{"status":"Reviewed"},{"status":"Prepared"}]},"encoding":{"y":{"field":"status","type":"nominal","sort":null,"scale":{"type":"point","padding":0,"range":[119,402]}}},"layer":[
{"mark":{"type":"point","shape":"circle","filled":true},"encoding":{"x":{"value":639},"size":{"value":490},"color":{"field":"status","type":"nominal","scale":{"domain":["Complete","Logged In","Exclude","Not Logged In","Reviewed","Prepared","Other","N/A"],"range":["#118DFF","#12239E","#E66C37","#6B007B","#E044A7","#744EC2","#D9B300","#D64550"]}}}},
{"mark":{"type":"text","align":"left","baseline":"middle"},"encoding":{"x":{"value":656},"text":{"field":"status"}}}
]},
{"data":{"values":[{"more":true}]},"mark":{"type":"point","filled":true,"fill":"#333333","shape":"M-12 -7H12L0 7Z"},"encoding":{"x":{"value":740},"y":{"value":468},"size":{"value":4}}}
]},
{"width":868,"height":507,"view":{"fill":"white","stroke":"#222","strokeWidth":2.5,"cornerRadius":12},
"data":{"values":[{"status":"Complete","count":1126,"label":"1126\n(57.68%)"},{"status":"Logged In","count":523,"label":"523\n(26.79%)"},{"status":"Exclude","count":163,"label":"163\n(8.35%)"},{"status":"Not Logged In","count":77},{"status":"Reviewed","count":33},{"status":"Prepared","count":24,"label":"24\n(1.23%)"},{"status":"N/A","count":6}]},
"transform":[{"stack":"count","groupby":[],"as":["t0","t1"]}],
"layer":[
{"data":{"values":[{"title":"Club Status"}]},"transform":[],"layer":[
{"mark":{"type":"rect","color":"#2187d0","cornerRadiusTopLeft":12,"cornerRadiusTopRight":12},"encoding":{"y":{"value":0},"y2":{"value":54}}},
{"mark":{"type":"text","font":"Roboto","fontWeight":500,"fontSize":30,"color":"white","align":"left","baseline":"middle"},"encoding":{"x":{"value":14},"y":{"value":25},"text":{"field":"title"}}}
]},
{"mark":{"type":"arc"},"encoding":{"x":{"value":320},"y":{"value":272},"radius":{"value":158},"theta":{"field":"t0","type":"quantitative","scale":{"domain":[0,1952]}},"theta2":{"field":"t1"},"color":{"field":"status","type":"nominal","scale":{"domain":["Complete","Logged In","Exclude","Not Logged In","Reviewed","Prepared","N/A"],"range":["#118DFF","#12239E","#E66C37","#6B007B","#E044A7","#744EC2","#D64550"]}}}},
{"data":{"values":[{"leaders":"Club Status"}]},"mark":{"type":"point","filled":false,"stroke":"#b3b0ad","strokeWidth":2.5,"shape":"M68 147L74 162H105M-127 100L-139 110H-171M-89 -135L-98 -150H-129M-8 -161L-10 -179H-40"},"encoding":{"x":{"value":320},"y":{"value":272},"size":{"value":4}}},
{"transform":[{"filter":"datum.status=='Complete'"}],"mark":{"type":"text","align":"left","lineBreak":"\n","lineHeight":35,"dx":115,"dy":314},"encoding":{"x":{"value":320},"y":{"value":272},"radius":{"value":158},"theta":{"field":"t0","type":"quantitative","scale":{"domain":[0,1952]}},"text":{"field":"label"}}},
{"transform":[{"filter":"datum.status=='Logged In'"}],"mark":{"type":"text","align":"right","lineBreak":"\n","lineHeight":35,"dx":-108,"dy":-36},"encoding":{"x":{"value":320},"y":{"value":272},"radius":{"value":158},"theta":{"field":"t0","type":"quantitative","scale":{"domain":[0,1952]}},"text":{"field":"label"}}},
{"transform":[{"filter":"datum.status=='Exclude'"}],"mark":{"type":"text","align":"right","lineBreak":"\n","lineHeight":35,"dx":-8,"dy":-67},"encoding":{"x":{"value":320},"y":{"value":272},"radius":{"value":158},"theta":{"field":"t0","type":"quantitative","scale":{"domain":[0,1952]}},"text":{"field":"label"}}},
{"transform":[{"filter":"datum.status=='Prepared'"}],"mark":{"type":"text","align":"right","lineBreak":"\n","lineHeight":35,"dx":-36,"dy":-27},"encoding":{"x":{"value":320},"y":{"value":272},"radius":{"value":158},"theta":{"field":"t0","type":"quantitative","scale":{"domain":[0,1952]}},"text":{"field":"label"}}},
{"data":{"values":[{"legendTitle":"Status"}]},"mark":{"type":"text","align":"left","baseline":"middle","fontWeight":"bold","fontSize":25,"color":"#505050"},"encoding":{"x":{"value":627},"y":{"value":73},"text":{"field":"legendTitle"}}},
{"data":{"values":[{"status":"Complete"},{"status":"Logged In"},{"status":"Exclude"},{"status":"Not Logged In"},{"status":"Reviewed"},{"status":"Prepared"},{"status":"N/A"}]},"encoding":{"y":{"field":"status","type":"nominal","sort":null,"scale":{"type":"point","padding":0,"range":[119,458]}}},"layer":[
{"mark":{"type":"point","shape":"circle","filled":true},"encoding":{"x":{"value":639},"size":{"value":490},"color":{"field":"status","type":"nominal","scale":{"domain":["Complete","Logged In","Exclude","Not Logged In","Reviewed","Prepared","N/A"],"range":["#118DFF","#12239E","#E66C37","#6B007B","#E044A7","#744EC2","#D64550"]}}}},
{"mark":{"type":"text","align":"left","baseline":"middle"},"encoding":{"x":{"value":656},"text":{"field":"status"}}}
]}
]},
{"width":868,"height":598,"view":{"fill":"white","stroke":"#222","strokeWidth":2.5,"cornerRadius":12},
"data":{"values":[
{"status":"Completed","count":1241,"label":"1241\n(29.63%)"},{"status":"Extended waiti...","count":504,"label":"504\n(12.03%)"},{"status":"Efile","count":442,"label":"442\n(10.55%)"},{"status":"No Info In","count":384,"label":"384 (9.17%)"},{"status":"eFile-Govt Acc...","count":326,"label":"326\n(7.78%)"},{"status":"Billing Processi...","count":218,"label":"218\n(5....)"},{"status":"Filing Not Req...","count":217,"label":"217\n(5....)"},
{"status":"Status 8","count":194},{"status":"Status 9","count":166,"label":"166 (...)"},{"status":"Status 10","count":75},{"status":"Status 11","count":72},{"status":"Status 12","count":42},{"status":"Status 13","count":49,"label":"49 (1.1...)"},{"status":"Status 14","count":42},{"status":"Status 15","count":40},{"status":"Status 16","count":22},{"status":"Status 17","count":14},{"status":"Status 18","count":13},{"status":"Status 19","count":12},{"status":"Status 20","count":12},{"status":"Status 21","count":11},{"status":"Status 22","count":10},{"status":"Status 23","count":9},{"status":"Status 24","count":9},{"status":"Status 25","count":8},{"status":"Status 26","count":7},{"status":"Status 27","count":7},{"status":"Status 28","count":7},{"status":"Status 29","count":6},{"status":"Status 30","count":6},{"status":"Status 31","count":5},{"status":"Status 32","count":4},{"status":"Status 33","count":5},{"status":"Status 34","count":5},{"status":"Status 35","count":4,"label":"4\n(0.1%)"}
]},
"transform":[{"stack":"count","groupby":[],"as":["t0","t1"]}],
"layer":[
{"data":{"values":[{"title":"Return Status"}]},"transform":[],"layer":[
{"mark":{"type":"rect","color":"#2187d0","cornerRadiusTopLeft":12,"cornerRadiusTopRight":12},"encoding":{"y":{"value":0},"y2":{"value":53}}},
{"mark":{"type":"text","font":"Roboto","fontWeight":500,"fontSize":30,"color":"white","align":"left","baseline":"middle"},"encoding":{"x":{"value":14},"y":{"value":24},"text":{"field":"title"}}}
]},
{"mark":{"type":"arc"},"encoding":{"x":{"value":307},"y":{"value":316},"radius":{"value":176},"theta":{"field":"t0","type":"quantitative","scale":{"domain":[0,4188]}},"theta2":{"field":"t1"},"color":{"field":"status","type":"nominal","scale":{"domain":["Completed","Extended waiti...","Efile","No Info In","eFile-Govt Acc...","Billing Processi...","Filing Not Req...","Status 8","Status 9","Status 10","Status 11","Status 12","Status 13","Status 14","Status 15","Status 16","Status 17","Status 18","Status 19","Status 20","Status 21","Status 22","Status 23","Status 24","Status 25","Status 26","Status 27","Status 28","Status 29","Status 30","Status 31","Status 32","Status 33","Status 34","Status 35"],"range":["#118DFF","#12239E","#E66C37","#6B007B","#E044A7","#744EC2","#D9B300","#D64550","#197278","#1AAB40","#15C6F4","#4092FF","#FFA058","#BE5DC9","#F472D0","#B5A1FF","#C4A200","#FF8080","#00DBBC","#5BD667","#0091D5","#4668C5","#FF6300","#99008A","#EC008C","#533285","#99700A","#FF4141","#1F9A85","#25891C","#0057A2","#002050","#C94F0F","#450F54","#B60064"]}}}},
{"data":{"values":[{"leaders":"Return Status"}]},"mark":{"type":"point","filled":false,"stroke":"#b3b0ad","strokeWidth":2.5,"shape":"M82 -161L92 -178H120M118 136L130 150H160M5 180L5 198H35M-52 173L-55 190H-86M-136 120.5L-149 133H-178M-173 50L-191 55H-221M-177 -37L-195 -41H-225M-130 -125L-145 -137H-174M-86 -158.5L-93 -166H-123M-14 -179L-16 -198.5H-46"},"encoding":{"x":{"value":307},"y":{"value":316},"size":{"value":4}}},
{"transform":[{"filter":"datum.status=='Completed'"}],"mark":{"type":"text","align":"left","lineBreak":"\n","lineHeight":35,"dx":130,"dy":-8},"encoding":{"x":{"value":307},"y":{"value":316},"radius":{"value":176},"theta":{"field":"t0","type":"quantitative","scale":{"domain":[0,4188]}},"text":{"field":"label"}}},
{"transform":[{"filter":"datum.status=='Extended waiti...'"}],"mark":{"type":"text","align":"left","lineBreak":"\n","lineHeight":35,"dx":2,"dy":92},"encoding":{"x":{"value":307},"y":{"value":316},"radius":{"value":176},"theta":{"field":"t0","type":"quantitative","scale":{"domain":[0,4188]}},"text":{"field":"label"}}},
{"transform":[{"filter":"datum.status=='Efile'"}],"mark":{"type":"text","align":"left","lineBreak":"\n","lineHeight":35,"dx":-43,"dy":39},"encoding":{"x":{"value":307},"y":{"value":316},"radius":{"value":176},"theta":{"field":"t0","type":"quantitative","scale":{"domain":[0,4188]}},"text":{"field":"label"}}},
{"transform":[{"filter":"datum.status=='No Info In'"}],"mark":{"type":"text","align":"right","lineBreak":"\n","lineHeight":35,"dx":-72,"dy":27},"encoding":{"x":{"value":307},"y":{"value":316},"radius":{"value":176},"theta":{"field":"t0","type":"quantitative","scale":{"domain":[0,4188]}},"text":{"field":"label"}}},
{"transform":[{"filter":"datum.status=='eFile-Govt Acc...'"}],"mark":{"type":"text","align":"right","lineBreak":"\n","lineHeight":35,"dx":-72,"dy":-7},"encoding":{"x":{"value":307},"y":{"value":316},"radius":{"value":176},"theta":{"field":"t0","type":"quantitative","scale":{"domain":[0,4188]}},"text":{"field":"label"}}},
{"transform":[{"filter":"datum.status=='Billing Processi...'"}],"mark":{"type":"text","align":"right","lineBreak":"\n","lineHeight":35,"dx":-68,"dy":-13},"encoding":{"x":{"value":307},"y":{"value":316},"radius":{"value":176},"theta":{"field":"t0","type":"quantitative","scale":{"domain":[0,4188]}},"text":{"field":"label"}}},
{"transform":[{"filter":"datum.status=='Filing Not Req...'"}],"mark":{"type":"text","align":"right","lineBreak":"\n","lineHeight":35,"dx":-59,"dy":-54},"encoding":{"x":{"value":307},"y":{"value":316},"radius":{"value":176},"theta":{"field":"t0","type":"quantitative","scale":{"domain":[0,4188]}},"text":{"field":"label"}}},
{"transform":[{"filter":"datum.status=='Status 9'"}],"mark":{"type":"text","align":"right","lineBreak":"\n","lineHeight":35,"dx":-37,"dy":-29},"encoding":{"x":{"value":307},"y":{"value":316},"radius":{"value":176},"theta":{"field":"t0","type":"quantitative","scale":{"domain":[0,4188]}},"text":{"field":"label"}}},
{"transform":[{"filter":"datum.status=='Status 13'"}],"mark":{"type":"text","align":"right","lineBreak":"\n","lineHeight":35,"dx":-58,"dy":-6},"encoding":{"x":{"value":307},"y":{"value":316},"radius":{"value":176},"theta":{"field":"t0","type":"quantitative","scale":{"domain":[0,4188]}},"text":{"field":"label"}}},
{"transform":[{"filter":"datum.status=='Status 35'"}],"mark":{"type":"text","align":"right","lineBreak":"\n","lineHeight":35,"dx":-55,"dy":-27},"encoding":{"x":{"value":307},"y":{"value":316},"radius":{"value":176},"theta":{"field":"t0","type":"quantitative","scale":{"domain":[0,4188]}},"text":{"field":"label"}}},
{"data":{"values":[{"legendTitle":"Return Status"}]},"mark":{"type":"text","align":"left","baseline":"middle","fontWeight":"bold","fontSize":25,"color":"#505050"},"encoding":{"x":{"value":600},"y":{"value":74},"text":{"field":"legendTitle"}}},
{"data":{"values":[{"status":"Completed"},{"status":"Extended waiti..."},{"status":"Efile"},{"status":"No Info In"},{"status":"eFile-Govt Acc..."},{"status":"Billing Processi..."},{"status":"Filing Not Req..."}]},"encoding":{"y":{"field":"status","type":"nominal","sort":null,"scale":{"type":"point","padding":0,"range":[118,457]}}},"layer":[
{"mark":{"type":"point","shape":"circle","filled":true},"encoding":{"x":{"value":613},"size":{"value":490},"color":{"field":"status","type":"nominal","scale":{"domain":["Completed","Extended waiti...","Efile","No Info In","eFile-Govt Acc...","Billing Processi...","Filing Not Req...","Status 8","Status 9","Status 10","Status 11","Status 12","Status 13","Status 14","Status 15","Status 16","Status 17","Status 18","Status 19","Status 20","Status 21","Status 22","Status 23","Status 24","Status 25","Status 26","Status 27","Status 28","Status 29","Status 30","Status 31","Status 32","Status 33","Status 34","Status 35"],"range":["#118DFF","#12239E","#E66C37","#6B007B","#E044A7","#744EC2","#D9B300","#D64550","#197278","#1AAB40","#15C6F4","#4092FF","#FFA058","#BE5DC9","#F472D0","#B5A1FF","#C4A200","#FF8080","#00DBBC","#5BD667","#0091D5","#4668C5","#FF6300","#99008A","#EC008C","#533285","#99700A","#FF4141","#1F9A85","#25891C","#0057A2","#002050","#C94F0F","#450F54","#B60064"]}}}},
{"mark":{"type":"text","align":"left","baseline":"middle"},"encoding":{"x":{"value":629},"text":{"field":"status"}}}
]},
{"data":{"values":[{"more":true}]},"mark":{"type":"point","filled":true,"fill":"#333333","shape":"M-12 -7H12L0 7Z"},"encoding":{"x":{"value":728},"y":{"value":557},"size":{"value":4}}}
]}
],"spacing":2,"bounds":"flush","resolve":{"scale":{"color":"independent"}}}
],"spacing":0}
]}
